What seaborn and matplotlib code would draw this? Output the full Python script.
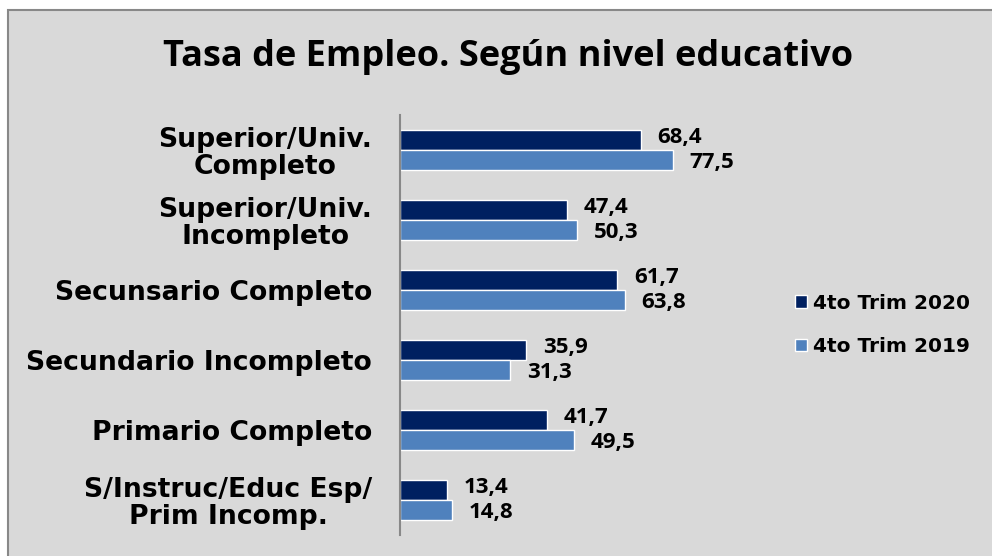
import pandas as pd
from matplotlib import pyplot as plt
from matplotlib.patches import Rectangle
import seaborn as sns

categorias = [
    "Superior/Univ.\nCompleto",
    "Superior/Univ.\nIncompleto",
    "Secunsario Completo",
    "Secundario Incompleto",
    "Primario Completo",
    "S/Instruc/Educ Esp/\nPrim Incomp.",
]
trim_2020 = [68.4, 47.4, 61.7, 35.9, 41.7, 13.4]
trim_2019 = [77.5, 50.3, 63.8, 31.3, 49.5, 14.8]
series = ["4to Trim 2020", "4to Trim 2019"]
colores = ["#002060", "#4f81bd"]

df = pd.DataFrame(
    {
        "Nivel": categorias * 2,
        "Tasa": trim_2020 + trim_2019,
        "Periodo": [series[0]] * 6 + [series[1]] * 6,
    }
)

sns.set_style("white")
plt.rcParams["font.family"] = ["DejaVu Sans"]
plt.rcParams["text.color"] = "black"

fig = plt.figure(figsize=(9.92, 5.56), dpi=100)
fig.patch.set_facecolor("white")
# chart area: border shows only on the left and top, the rest runs off the image
fig.patches.append(
    Rectangle((8 / 992, -0.05), 1.0, 1 - 10 / 556 + 0.05,
              transform=fig.transFigure, facecolor="#d9d9d9",
              edgecolor="#888888", linewidth=1.5, zorder=-10)
)

ax = fig.add_axes([400 / 992, 1 - 535 / 556, 352 / 992, 420 / 556])
ax.set_facecolor("none")

sns.barplot(
    data=df, y="Nivel", x="Tasa", hue="Periodo", order=categorias,
    hue_order=series, palette=colores, width=0.57, orient="h",
    saturation=1, ax=ax, legend=True,
)

ax.set_xlim(0, 100)
ax.set_ylim(5.5, -0.5)
ax.set_xlabel("")
ax.set_ylabel("")
ax.set_xticks([])
ax.tick_params(axis="y", length=0, pad=20)
for lbl in ax.get_yticklabels():
    lbl.set_fontweight("bold")
    lbl.set_fontsize(19.2)
    lbl.set_color("black")
    lbl.set_multialignment("center")
    lbl.set_linespacing(1.05)

for s in ["top", "right", "bottom"]:
    ax.spines[s].set_visible(False)
ax.spines["left"].set_color("#888888")
ax.spines["left"].set_linewidth(1.5)

# labels of the two series pushed slightly apart, as in the original
for cont, dy in zip(ax.containers, [1.5, -1.5]):
    anns = ax.bar_label(
        cont, labels=[f"{v:.1f}".replace(".", ",") for v in cont.datavalues],
        padding=12, fontsize=16, fontweight="bold", family="Open Sans", color="black",
    )
    for a in anns:
        a.xyann = (12, dy)

leg = ax.legend(
    loc="center left", bbox_to_anchor=(777 / 992, 1 - 325 / 556), bbox_transform=fig.transFigure,
    frameon=False, handlelength=0.6, handleheight=0.6, handletextpad=0.3,
    labelspacing=1.2, prop={"weight": "bold", "size": 14.5},
)

fig.text(508 / 992, 1 - 57 / 556, "Tasa de Empleo. Según nivel educativo",
         ha="center", va="center", fontsize=26, fontweight="bold",
         family="Open Sans", color="black")

fig.savefig("out.png", dpi=100)
